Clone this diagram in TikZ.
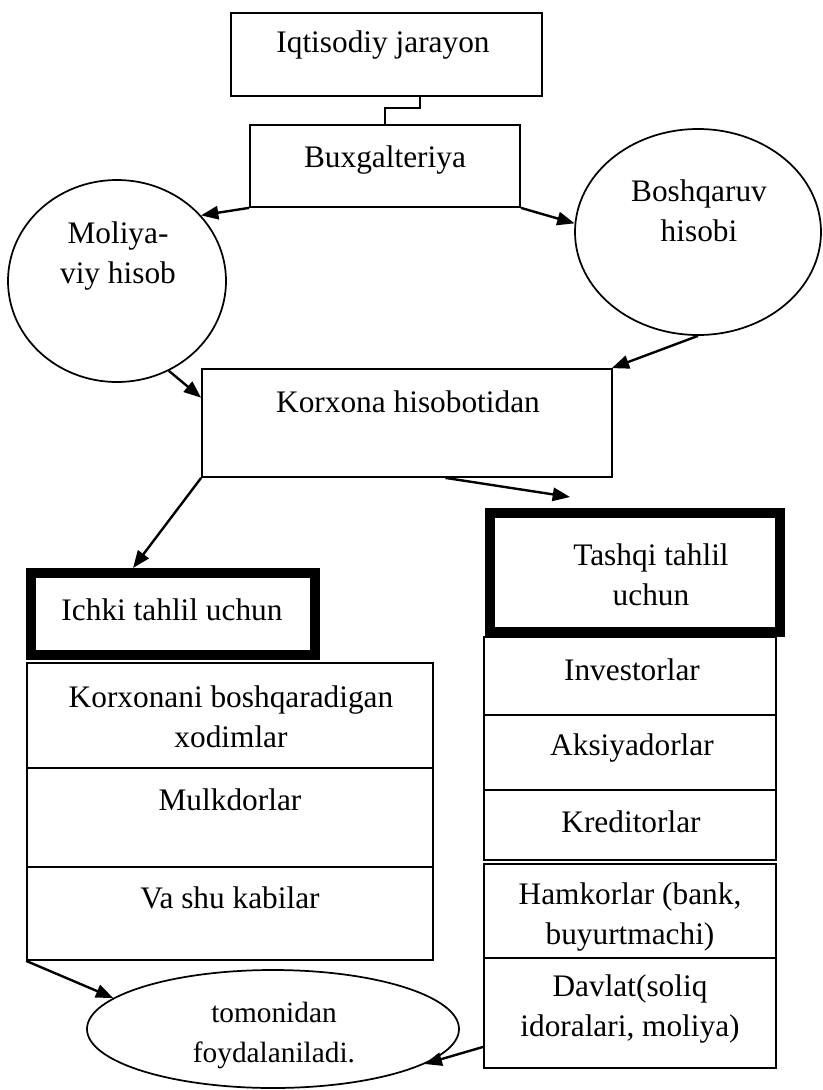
\documentclass[tikz,border=0pt]{standalone}
\usepackage{fontspec}
\setmainfont{Liberation Serif}
\usetikzlibrary{arrows.meta,shapes.geometric}
\begin{document}
\begin{tikzpicture}[x=0.75pt,y=-0.75pt,
  sz/.style 2 args={minimum width=#1*0.75pt,minimum height=#2*0.75pt},
  box/.style={draw,line width=1.3pt,inner sep=0pt,rectangle},
  heavy/.style={draw,line width=7.5pt,inner sep=0pt,rectangle},
  oval/.style={draw,line width=1.3pt,ellipse,inner sep=0pt},
  lbl/.style={font=\fontsize{23.5}{30}\selectfont,align=center,inner sep=0pt},
  smalllbl/.style={font=\fontsize{22}{30}\selectfont,align=center,inner sep=0pt},
  arr/.style={line width=1.8pt,-{Triangle[length=13pt,width=10pt]}},
  link/.style={line width=1.3pt}]

\fill[white] (0,0) rectangle (823,1090);
\useasboundingbox (0,0) rectangle (823,1090);

% top of the scheme
\node[box,sz={311}{83}] (iq) at (386.5,54.5) {};
\node[lbl] (iqt) at (383,45) {Iqtisodiy jarayon};
\node[box,sz={270}{82}] (bux) at (385,166) {};
\node[lbl] (buxt) at (385,160) {Buxgalteriya};
\coordinate (j1) at (420,108);
\coordinate (j2) at (385,108);
\draw[link] (iq.south -| j1) -- (j1) -- (j2) -- (bux.north -| j2);

% two kinds of accounting
\node[oval,sz={218}{202}] (mol) at (117,281) {};
\node[lbl] (molt) at (118,256) {Moliya-\\viy hisob};
\node[oval,sz={246}{206}] (bosh) at (698,232) {};
\node[lbl] (bosht) at (699,211) {Boshqaruv\\hisobi};

\node[box,sz={410}{108}] (kor) at (407,423) {};
\node[lbl] (kort) at (408,402) {Korxona hisobotidan};

% internal analysis column
\node[heavy,sz={284}{82}] (ichki) at (173,614) {};
\node[lbl] (ichkit) at (172,610) {Ichki tahlil uchun};
\node[box,sz={406}{105}] (xod) at (230,715.5) {};
\node[lbl] (xodt) at (231,717) {Korxonani boshqaradigan\\xodimlar};
\node[box,sz={406}{99}] (mulk) at (230,817.5) {};
\node[lbl] (mulkt) at (230,800) {Mulkdorlar};
\node[box,sz={406}{93}] (va) at (230,913.5) {};
\node[lbl] (vat) at (230,898) {Va shu kabilar};

% external analysis column
\node[heavy,sz={290}{119}] (tash) at (635,572.5) {};
\node[lbl] (tasht) at (651,575) {Tashqi tahlil\\uchun};
\node[box,sz={292}{78}] (inv) at (630,676) {};
\node[lbl] (invt) at (632,670) {Investorlar};
\node[box,sz={292}{75}] (aks) at (630,752.5) {};
\node[lbl] (akst) at (632,748) {Aksiyadorlar};
\node[box,sz={292}{70}] (kred) at (630,825) {};
\node[lbl] (kredt) at (631,822) {Kreditorlar};
\node[box,sz={292}{94}] (ham) at (630,911) {};
\node[lbl] (hamt) at (630,917) {Hamkorlar (bank,\\buyurtmachi)};
\node[box,sz={292}{110}] (dav) at (630,1013) {};
\node[lbl] (davt) at (630,1009) {Davlat(soliq\\idoralari, moliya)};

% users
\node[oval,sz={372}{118}] (tom) at (273,1029) {};
\node[smalllbl] (tomt) at (274,1035) {tomonidan\\foydalaniladi.};

% connectors
\coordinate (tashtip) at (570,497);
\draw[arr] (bux.south west) -- (mol.38);
\draw[arr] (bux.south east) -- (bosh.176);
\draw[arr] (mol.-60) -- (kor.173);
\draw[arr] (bosh.south) -- (kor.15);
\draw[arr] (kor.south west) -- (ichki.131);
\draw[arr] (kor.-55) -- (tashtip);
\draw[arr] (va.south west) -- (tom.169);
\draw[arr] (dav.193) -- (tom.-13);
\end{tikzpicture}
\end{document}
